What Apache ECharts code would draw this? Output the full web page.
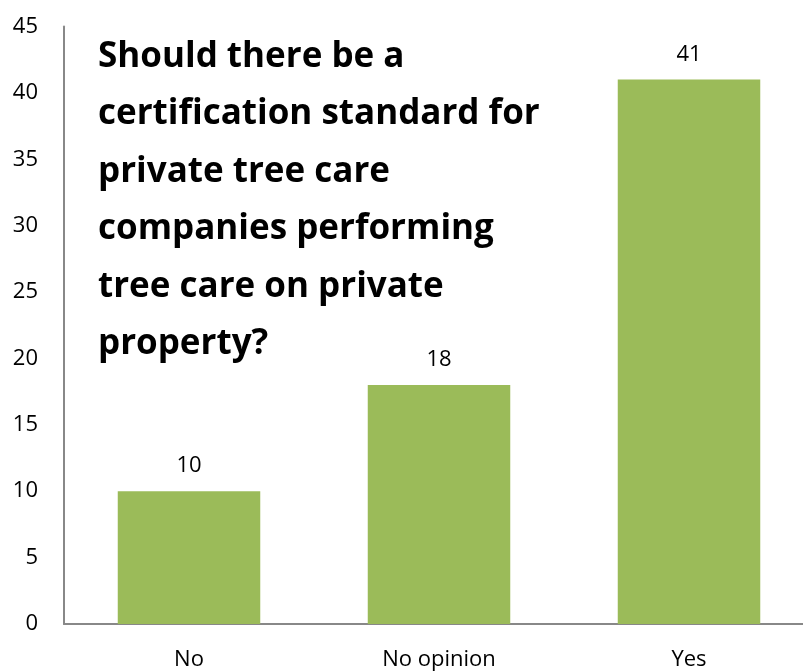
<!DOCTYPE html>
<html>
<head>
<meta charset="utf-8">
<script src="https://cdn.jsdelivr.net/npm/echarts@6/dist/echarts.min.js"></script>
<style>
  html, body { margin: 0; padding: 0; background: #fff; }
  #chart { width: 803px; height: 671px; }
</style>
</head>
<body>
<div id="chart"></div>
<script>
// Survey answers and response counts
const categories = ['No', 'No opinion', 'Yes'];
const responses = [10, 18, 41];
const yTicks = { min: 0, max: 45, interval: 5 };
const question = [
  'Should there be a',
  'certification standard for',
  'private tree care',
  'companies performing',
  'tree care on private',
  'property?'
];

const chart = echarts.init(document.getElementById('chart'));
const textFont = '"Open Sans", sans-serif';

chart.setOption({
  animation: false,
  title: {
    text: question.join('\n'),
    left: 93,
    top: 23,
    textStyle: {
      fontFamily: textFont,
      fontSize: 35,
      fontWeight: 'bold',
      color: '#000',
      lineHeight: 57.5
    }
  },
  // The plot runs a little past the right edge of the canvas
  grid: {
    left: 64, top: 26.5, bottom: 47, width: 750,
    containLabel: false,
    outerBoundsMode: 'none'
  },
  xAxis: {
    type: 'category',
    data: categories,
    axisLine: { show: true, lineStyle: { color: '#888', width: 2 } },
    axisTick: { show: false },
    axisLabel: { color: '#000', fontSize: 22, fontFamily: textFont, margin: 25 }
  },
  yAxis: {
    type: 'value',
    min: yTicks.min,
    max: yTicks.max,
    interval: yTicks.interval,
    splitLine: { show: false },
    axisLine: { show: true, lineStyle: { color: '#888', width: 2 } },
    axisTick: { show: false },
    axisLabel: { color: '#000', fontSize: 22, fontFamily: textFont, margin: 26 }
  },
  series: [{
    type: 'bar',
    data: responses,
    barWidth: '57%',
    itemStyle: { color: '#9BBB59' },
    label: {
      show: true,
      position: 'top',
      distance: 14,
      color: '#000',
      fontSize: 22,
      fontFamily: textFont
    }
  }]
});
</script>
</body>
</html>
